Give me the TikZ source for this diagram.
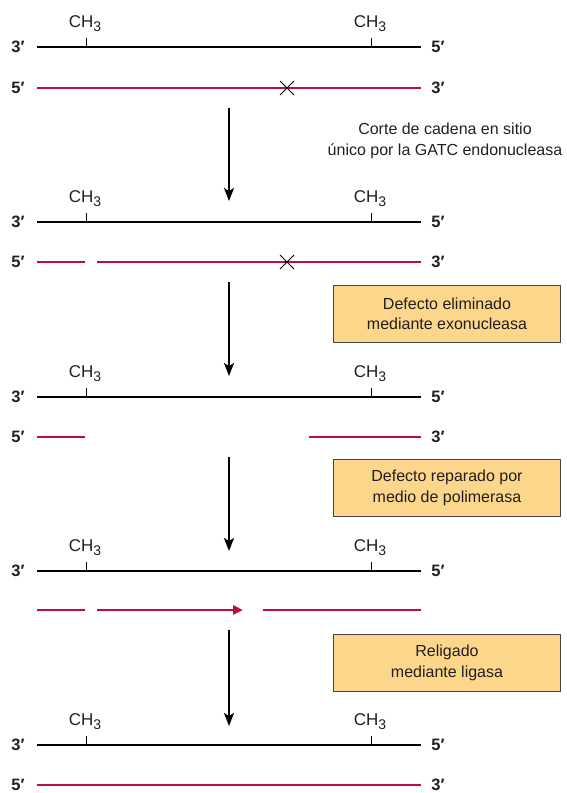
\documentclass[tikz,border=0pt]{standalone}
\usepackage{fontspec}
\setmainfont{Liberation Sans}
\usetikzlibrary{arrows.meta}
\definecolor{strandred}{RGB}{190,12,62}
\definecolor{boxfill}{RGB}{252,214,138}
\definecolor{boxline}{RGB}{70,70,70}
\definecolor{inktext}{RGB}{35,31,32}
\newcommand{\methylgroup}{CH\raisebox{-4.5pt}{\fontsize{14}{14}\selectfont 3}}
\tikzset{
  parent/.style={line width=2.4pt, black},
  daughter/.style={line width=2.8pt, strandred},
  endlabel/.style={font=\bfseries\fontsize{16.5}{16.5}\selectfont, inner sep=0pt, text=inktext},
  methyl/.style={font=\fontsize{17}{17}\selectfont, inner sep=0pt, anchor=base, text=inktext},
  tick/.style={line width=1pt, black},
  flowarrow/.style={line width=2pt, -{Stealth[length=13pt,width=10pt,inset=3pt]}},
  notebox/.style={draw=boxline, line width=0.8pt, fill=boxfill, minimum width=227pt,
    minimum height=57pt, align=center, font=\fontsize{16}{20.5}\selectfont, inner sep=0pt,
    text=inktext},
  note/.style={align=center, font=\fontsize{16}{21}\selectfont, inner sep=0pt, text=inktext},
  mismatch/.style={line width=1pt, black}
}
\begin{document}
\begin{tikzpicture}[x=1pt,y=-1pt]
\useasboundingbox (0,0) rectangle (567,793);

% parental (methylated) strands with their CH3 groups
\foreach \i/\y in {1/47,2/222,3/397,4/571,5/745}{
  \coordinate (p\i a) at (37,\y);
  \coordinate (p\i b) at (421,\y);
  \draw[parent] (p\i a) -- (p\i b);
  \node[endlabel] (p\i l) at (18,\y) {3′};
  \node[endlabel] (p\i r) at (438,\y) {5′};
  \coordinate (m\i a) at (86,\y-9);
  \coordinate (m\i b) at (86,\y);
  \coordinate (n\i a) at (371,\y-9);
  \coordinate (n\i b) at (371,\y);
  \draw[tick] (m\i a) -- (m\i b);
  \draw[tick] (n\i a) -- (n\i b);
  \node[methyl] (ch\i a) at (85,\y-20) {\methylgroup};
  \node[methyl] (ch\i b) at (370,\y-20) {\methylgroup};
}

% end labels on the daughter strands
\foreach \i/\y in {1/88,2/262,3/437,5/785}{
  \node[endlabel] (d\i l) at (18,\y) {5′};
  \node[endlabel] (d\i r) at (438,\y) {3′};
}

% daughter strand 1: intact, with mismatch
\coordinate (d1a) at (37,88);
\coordinate (d1b) at (421,88);
\draw[daughter] (d1a) -- (d1b);
\coordinate (x1) at (287,88);
\draw[mismatch] ([shift={(-7,-7)}]x1) -- ([shift={(7,7)}]x1)
                ([shift={(-7,7)}]x1) -- ([shift={(7,-7)}]x1);

% daughter strand 2: nicked
\coordinate (d2a) at (37,262);
\coordinate (d2b) at (85,262);
\coordinate (d2c) at (97,262);
\coordinate (d2d) at (421,262);
\draw[daughter] (d2a) -- (d2b);
\draw[daughter] (d2c) -- (d2d);
\coordinate (x2) at (287,262);
\draw[mismatch] ([shift={(-7,-7)}]x2) -- ([shift={(7,7)}]x2)
                ([shift={(-7,7)}]x2) -- ([shift={(7,-7)}]x2);

% daughter strand 3: gap after excision
\coordinate (d3a) at (37,437);
\coordinate (d3b) at (85,437);
\coordinate (d3c) at (309,437);
\coordinate (d3d) at (421,437);
\draw[daughter] (d3a) -- (d3b);
\draw[daughter] (d3c) -- (d3d);

% daughter strand 4: gap being filled
\coordinate (d4a) at (37,610);
\coordinate (d4b) at (85,610);
\coordinate (d4c) at (97,610);
\coordinate (d4d) at (243,610);
\coordinate (d4e) at (263,610);
\coordinate (d4f) at (421,610);
\draw[daughter] (d4a) -- (d4b);
\draw[daughter, -{Triangle[length=10pt,width=9pt]}] (d4c) -- (d4d);
\draw[daughter] (d4e) -- (d4f);

% daughter strand 5: repaired
\coordinate (d5a) at (37,785);
\coordinate (d5b) at (421,785);
\draw[daughter] (d5a) -- (d5b);

% step arrows
\foreach \i/\ya/\yb in {1/108/201,2/282/376,3/457/551,4/630/726}{
  \coordinate (s\i a) at (229,\ya);
  \coordinate (s\i b) at (229,\yb);
  \draw[flowarrow] (s\i a) -- (s\i b);
}

% step descriptions
\node[note] (t1) at (445,141) {Corte de cadena en sitio\\único por la GATC endonucleasa};
\node[notebox] (t2) at (447,314) {Defecto eliminado\\mediante exonucleasa};
\node[notebox] (t3) at (447,488) {Defecto reparado por\\medio de polimerasa};
\node[notebox] (t4) at (447,663) {Religado\\mediante ligasa};
\end{tikzpicture}
\end{document}
